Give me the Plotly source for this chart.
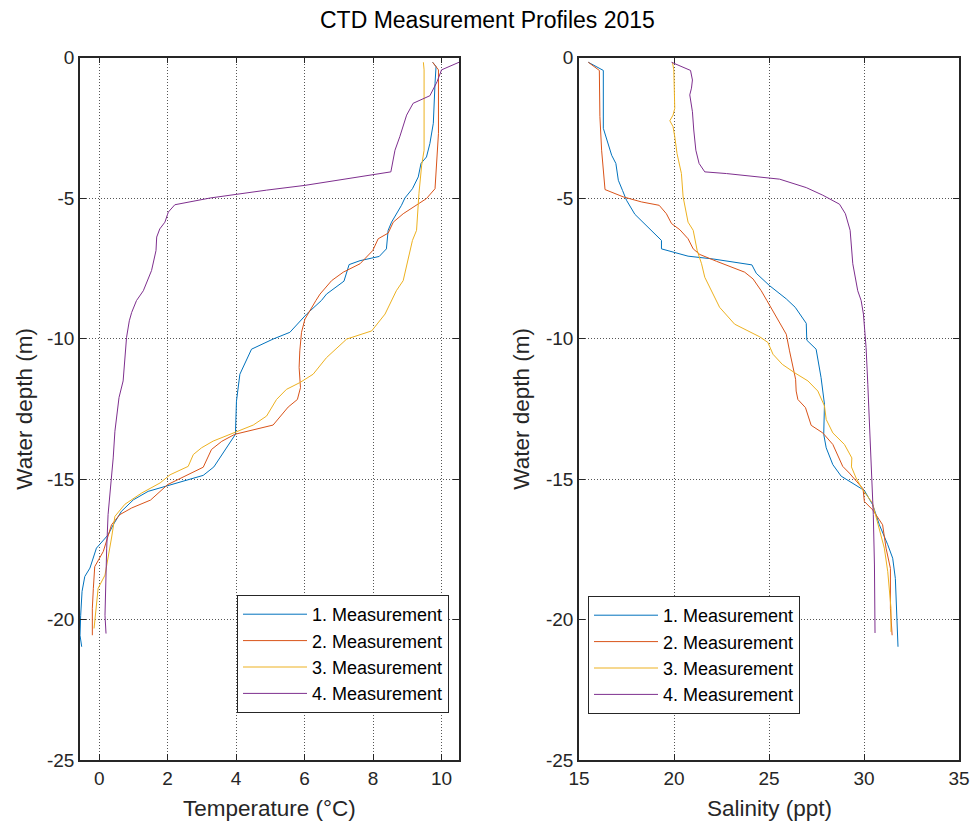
import plotly.graph_objects as go

# ---------------- data ----------------
series_names = ["1. Measurement", "2. Measurement", "3. Measurement", "4. Measurement"]
colors = ["#0072BD", "#D95319", "#EDB120", "#7E2F8E"]

# Temperature profiles (°C) and their depths (m, negative downward)
depth_t1 = [-0.17, -0.32, -0.92, -2.34, -3.06, -3.54, -3.77, -4.25, -4.67, -5.0, -5.26, -5.86, -6.15, -6.81,
            -7.08, -7.23, -7.37, -7.96, -8.42, -8.65, -9.13, -9.78, -10.02, -10.38, -11.27, -12.23, -13.41,
            -13.89, -14.57, -14.87, -15.18, -15.44, -15.74, -16.15, -16.63, -16.99, -17.46, -17.94, -18.17,
            -18.47, -19.0, -19.85, -20.56, -20.97]
temp_1 = [9.74, 9.84, 9.81, 9.76, 9.66, 9.56, 9.40, 9.32, 9.15, 8.93, 8.83, 8.54, 8.44, 8.39,
          8.18, 7.62, 7.30, 7.15, 6.64, 6.49, 6.06, 5.57, 5.08, 4.45, 4.11, 4.01, 3.98,
          3.72, 3.35, 3.04, 2.16, 1.43, 1.00, 0.65, 0.41, 0.26, -0.08, -0.22, -0.27,
          -0.42, -0.50, -0.54, -0.56, -0.51]

depth_t2 = [-0.17, -0.44, -2.7, -3.89, -4.67, -5.02, -5.26, -5.56, -5.86, -6.25, -6.45, -6.87, -7.34, -7.64,
            -7.94, -8.42, -8.65, -9.31, -9.78, -10.44, -11.03, -11.75, -12.17, -12.44, -13.08, -13.24, -13.41,
            -13.66, -13.95, -14.58, -14.85, -15.2, -15.75, -16.03, -16.27, -16.63, -17.58, -18.12, -18.89,
            -19.6, -20.56]
temp_2 = [9.74, 9.91, 9.91, 9.86, 9.81, 9.56, 9.27, 8.88, 8.59, 8.44, 8.15, 7.99, 7.62, 7.13,
          6.79, 6.45, 6.33, 6.01, 5.91, 5.86, 5.84, 5.88, 5.79, 5.52, 5.08, 4.50, 3.96,
          3.58, 3.28, 3.04, 2.60, 2.00, 1.50, 0.95, 0.60, 0.36, 0.12, -0.13, -0.17,
          -0.20, -0.20]

depth_t3 = [-0.17, -0.44, -3.3, -3.83, -4.84, -6.15, -6.51, -7.1, -7.94, -8.3, -8.65, -9.13, -9.73, -10.02,
            -10.68, -11.27, -11.57, -11.81, -12.17, -12.76, -13.08, -13.41, -13.65, -13.89, -14.13, -14.55,
            -14.85, -15.14, -15.5, -15.9, -16.33, -17.1, -18.42, -18.89, -19.85, -20.32]
temp_3 = [9.47, 9.49, 9.49, 9.42, 9.34, 9.27, 9.15, 9.03, 8.88, 8.68, 8.55, 8.35, 7.96, 7.23,
          6.64, 6.25, 5.86, 5.47, 5.18, 4.89, 4.50, 3.82, 3.33, 2.99, 2.75, 2.60,
          2.07, 1.78, 1.24, 0.75, 0.46, 0.36, 0.17, -0.03, -0.12, -0.15]

depth_t4 = [-0.17, -0.44, -0.86, -1.36, -1.63, -2.05, -2.82, -3.3, -4.07, -4.17, -4.37, -4.55, -4.72, -4.87,
            -5.0, -5.24, -5.5, -5.86, -6.1, -6.39, -6.87, -7.58, -7.94, -8.3, -8.65, -9.07, -9.37, -9.96,
            -11.51, -12.1, -13.3, -14.25, -15.32, -16.27, -17.46, -18.65, -19.85, -20.5]
temp_4 = [10.51, 10.0, 9.87, 9.66, 9.17, 8.98, 8.78, 8.64, 8.52, 8.0, 7.03, 6.01, 4.89, 4.0,
          3.24, 2.21, 2.02, 1.92, 1.77, 1.68, 1.66, 1.53, 1.40, 1.29, 1.09, 0.95, 0.88, 0.80,
          0.70, 0.58, 0.46, 0.41, 0.33, 0.26, 0.22, 0.19, 0.17, 0.20]

# Salinity profiles (ppt) and their depths (m)
depth_s1 = [-0.17, -0.46, -2.52, -3.18, -3.48, -3.77, -4.37, -4.73, -5.08, -5.58, -5.98, -6.33, -6.51, -6.81,
            -6.93, -7.07, -7.17, -7.38, -7.68, -8.12, -8.59, -8.89, -9.46, -10.06, -10.38, -11.39, -12.34,
            -13.41, -13.89, -14.49, -14.9, -15.14, -15.41, -15.92, -16.63, -17.34, -17.82, -18.54, -19.6,
            -20.97]
sal_1 = [15.49, 16.28, 16.28, 16.59, 16.72, 16.94, 17.07, 17.29, 17.50, 17.94, 18.55, 19.08, 19.34, 19.34,
         20.04, 20.74, 22.06, 24.10, 24.33, 25.03, 25.91, 26.38, 26.96, 26.99, 27.48, 27.74, 27.92,
         27.88, 28.01, 28.36, 28.80, 29.41, 30.02, 30.46, 30.81, 31.25, 31.51, 31.65, 31.72,
         31.79]

depth_s2 = [-0.17, -0.46, -2.1, -3.3, -4.7, -4.96, -5.14, -5.26, -5.56, -5.91, -6.13, -6.45, -6.81, -7.01,
            -7.25, -7.64, -7.88, -8.3, -8.65, -9.31, -9.85, -10.44, -11.03, -11.45, -11.87, -12.17, -12.46,
            -13.09, -13.36, -13.77, -14.55, -14.79, -15.35, -15.8, -16.1, -16.63, -17.46, -18.18, -19.6,
            -20.56]
sal_2 = [15.49, 16.07, 16.10, 16.19, 16.37, 17.33, 18.29, 19.22, 19.60, 19.87, 20.31, 20.74, 21.01, 21.36,
         22.23, 23.72, 24.16, 24.59, 24.89, 25.47, 25.91, 26.08, 26.26, 26.40, 26.43, 26.52, 26.92,
         27.22, 27.83, 28.36, 28.88, 29.23, 29.95, 30.02, 30.46, 30.98, 31.16, 31.39, 31.39,
         31.48]

depth_s3 = [-0.17, -0.44, -1.81, -2.05, -2.25, -2.46, -2.82, -3.42, -4.13, -4.96, -5.86, -6.15, -6.87, -7.34,
            -7.82, -8.42, -8.89, -9.49, -9.94, -10.14, -10.56, -10.92, -11.22, -11.51, -11.87, -12.4, -12.88,
            -13.36, -13.77, -14.25, -14.57, -14.96, -15.38, -15.85, -16.75, -17.46, -18.3, -19.6, -20.44]
sal_3 = [19.92, 19.99, 20.04, 19.95, 19.78, 19.95, 20.04, 20.16, 20.39, 20.48, 20.74, 21.01, 21.22, 21.45,
         21.62, 22.06, 22.40, 23.19, 24.51, 24.94, 25.21, 25.70, 26.35, 27.05, 27.57, 27.92, 28.01,
         28.36, 28.97, 29.36, 29.34, 29.58, 29.93, 30.44, 30.81, 31.07, 31.25, 31.42, 31.42]

depth_s4 = [-0.17, -0.46, -0.8, -1.09, -1.33, -1.93, -2.58, -3.3, -3.77, -4.07, -4.13, -4.22, -4.33, -4.63,
            -4.9, -5.22, -5.56, -6.15, -7.34, -8.3, -8.65, -9.13, -10.32, -11.63, -12.82, -14.6, -15.8,
            -16.27, -18.06, -20.48]
sal_4 = [19.87, 20.87, 20.97, 20.92, 20.83, 20.97, 21.04, 21.15, 21.32, 21.62, 22.76, 24.16, 25.56, 26.96,
         27.83, 28.71, 29.02, 29.27, 29.41, 29.67, 29.85, 29.97, 30.11, 30.20, 30.28, 30.37, 30.46,
         30.49, 30.55, 30.58]

temp_ticks = [0, 2, 4, 6, 8, 10]
temp_tick_labels = ["0", "2", "4", "6", "8", "10"]
sal_ticks = [15, 20, 25, 30, 35]
sal_tick_labels = ["15", "20", "25", "30", "35"]
depth_ticks = [0, -5, -10, -15, -20, -25]
depth_tick_labels = ["0", "-5", "-10", "-15", "-20", "-25"]

title_text = "CTD Measurement Profiles 2015"
temp_label = "Temperature (°C)"
sal_label = "Salinity (ppt)"
depth_label = "Water depth (m)"

# ---------------- figure ----------------
W, H = 974, 823
FONT = "Liberation Sans, Arial, sans-serif"
TXT = "#262626"

fig = go.Figure()

temps = [(temp_1, depth_t1), (temp_2, depth_t2), (temp_3, depth_t3), (temp_4, depth_t4)]
sals = [(sal_1, depth_s1), (sal_2, depth_s2), (sal_3, depth_s3), (sal_4, depth_s4)]

for i, (xv, yv) in enumerate(temps):
    fig.add_trace(go.Scatter(x=xv, y=yv, mode="lines", name=series_names[i],
                             line=dict(color=colors[i], width=1),
                             xaxis="x", yaxis="y", legend="legend"))
for i, (xv, yv) in enumerate(sals):
    fig.add_trace(go.Scatter(x=xv, y=yv, mode="lines", name=series_names[i],
                             line=dict(color=colors[i], width=1),
                             xaxis="x2", yaxis="y2", legend="legend2"))

# pixel geometry of the axes boxes
L1, R1 = 80, 459
L2, R2 = 579, 959
TOP, BOT = 57.5, 760


def px_x(p):
    return p / W


def px_y(p):
    return 1 - p / H


axis_common = dict(showline=True, linecolor=TXT, linewidth=1.5, mirror="ticks",
                   ticks="inside", ticklen=6, tickwidth=1, tickcolor=TXT,
                   showgrid=True, gridcolor="rgba(30,30,30,0.75)", griddash="1px,2px", gridwidth=1,
                   zeroline=False, automargin=False,
                   tickfont=dict(family=FONT, size=19, color=TXT))

legend_common = dict(xanchor="left", yanchor="top", bgcolor="white", bordercolor=TXT,
                     borderwidth=1, font=dict(family=FONT, size=18, color="#000"),
                     itemwidth=64, tracegroupgap=0)

fig.update_layout(
    template="none",
    width=W, height=H,
    margin=dict(l=0, r=0, t=0, b=0),
    paper_bgcolor="white", plot_bgcolor="white",
    font=dict(family=FONT, color=TXT),
    xaxis=dict(domain=[px_x(L1), px_x(R1)], range=[-0.56, 10.51], tickvals=temp_ticks,
               ticktext=temp_tick_labels, anchor="y", **axis_common),
    yaxis=dict(domain=[px_y(BOT), px_y(TOP)], range=[-25, 0], tickvals=depth_ticks,
               ticktext=depth_tick_labels, anchor="x", **axis_common),
    xaxis2=dict(domain=[px_x(L2), px_x(R2)], range=[15, 35], tickvals=sal_ticks,
                ticktext=sal_tick_labels, anchor="y2", **axis_common),
    yaxis2=dict(domain=[px_y(BOT), px_y(TOP)], range=[-25, 0], tickvals=depth_ticks,
                ticktext=depth_tick_labels, anchor="x2", **axis_common),
    legend=dict(x=px_x(237), y=px_y(595), **legend_common),
    legend2=dict(x=px_x(588), y=px_y(596), **legend_common),
    showlegend=True,
)

annotations = [
    dict(text=title_text, x=487 / W, y=px_y(20), xref="paper", yref="paper",
         showarrow=False, font=dict(family=FONT, size=23, color="#000"),
         xanchor="center", yanchor="middle"),
    dict(text=temp_label, x=px_x((L1 + R1) / 2), y=px_y(808), xref="paper", yref="paper",
         showarrow=False, font=dict(family=FONT, size=22.5, color=TXT),
         xanchor="center", yanchor="middle"),
    dict(text=sal_label, x=px_x((L2 + R2) / 2), y=px_y(808), xref="paper", yref="paper",
         showarrow=False, font=dict(family=FONT, size=22.5, color=TXT),
         xanchor="center", yanchor="middle"),
    dict(text=depth_label, x=px_x(25), y=px_y((TOP + BOT) / 2), xref="paper", yref="paper",
         showarrow=False, textangle=-90, font=dict(family=FONT, size=22.5, color=TXT),
         xanchor="center", yanchor="middle"),
    dict(text=depth_label, x=px_x(522), y=px_y((TOP + BOT) / 2), xref="paper", yref="paper",
         showarrow=False, textangle=-90, font=dict(family=FONT, size=22.5, color=TXT),
         xanchor="center", yanchor="middle"),
]
fig.update_layout(annotations=annotations)

fig.write_html("out.html")
